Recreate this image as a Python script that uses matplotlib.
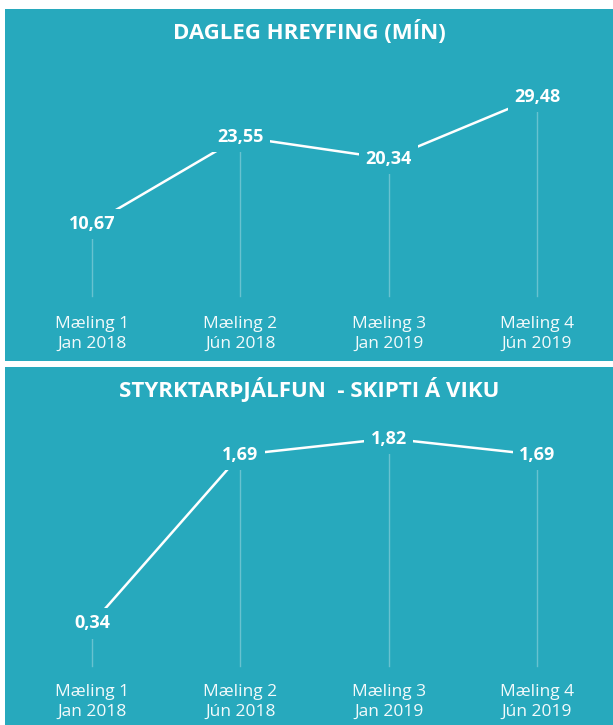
import matplotlib
matplotlib.use("Agg")
import matplotlib.pyplot as plt
import matplotlib.transforms as mtransforms

plt.rcParams["font.family"] = ["Open Sans", "DejaVu Sans"]

TEAL = "#27a9bd"

labels = ["Mæling 1\nJan 2018", "Mæling 2\nJún 2018", "Mæling 3\nJan 2019", "Mæling 4\nJún 2019"]
hreyfing = [10.67, 23.55, 20.34, 29.48]
styrkur = [0.34, 1.69, 1.82, 1.69]

W, H = 613, 725
fig = plt.figure(figsize=(W / 100, H / 100), dpi=100)
fig.patch.set_facecolor("white")


def panel(rect, values, title, ylim, tick_center_px):
    ax = fig.add_axes(rect)
    ax.set_facecolor(TEAL)
    for s in ax.spines.values():
        s.set_visible(False)
    ax.set_xticks([])
    ax.set_yticks([])
    ax.set_xlim(-0.587, 3.512)
    ax.set_ylim(*ylim)
    x = list(range(len(values)))
    # drop lines
    for xi, v in zip(x, values):
        ax.plot([xi, xi], [0, v], color="white", lw=1, alpha=0.3, zorder=1)
    ax.plot(x, values, color="white", lw=1.8, zorder=2, solid_capstyle="butt")
    for xi, v in zip(x, values):
        ax.text(xi, v, f"{v:.2f}".replace(".", ","), color="white", fontsize=13,
                fontweight="bold", ha="center", va="center", zorder=3,
                bbox=dict(boxstyle="square,pad=0.35", fc=TEAL, ec="none"))
    tr = mtransforms.blended_transform_factory(ax.transData, ax.transAxes)
    hpx = rect[3] * H
    for xi, lab in zip(x, labels):
        ax.text(xi, tick_center_px / hpx, lab, transform=tr, color="white", fontsize=12.5,
                ha="center", va="center", linespacing=1.35, alpha=0.95)
    ax.text(0.5, 1 - 23 / hpx, title, transform=ax.transAxes,
            color="white", fontsize=16, fontweight="bold", ha="center", va="center")
    return ax


panel([5 / W, 1 - 361 / H, 608 / W, 352 / H], hreyfing,
      "DAGLEG HREYFING (MÍN)", (-9.63, 42.5), 27)
panel([5 / W, 0, 608 / W, 358 / H], styrkur,
      "STYRKTARÞJÁLFUN  - SKIPTI Á VIKU", (-0.472, 2.392), 23)

fig.savefig("out.png", dpi=100, facecolor="white")
